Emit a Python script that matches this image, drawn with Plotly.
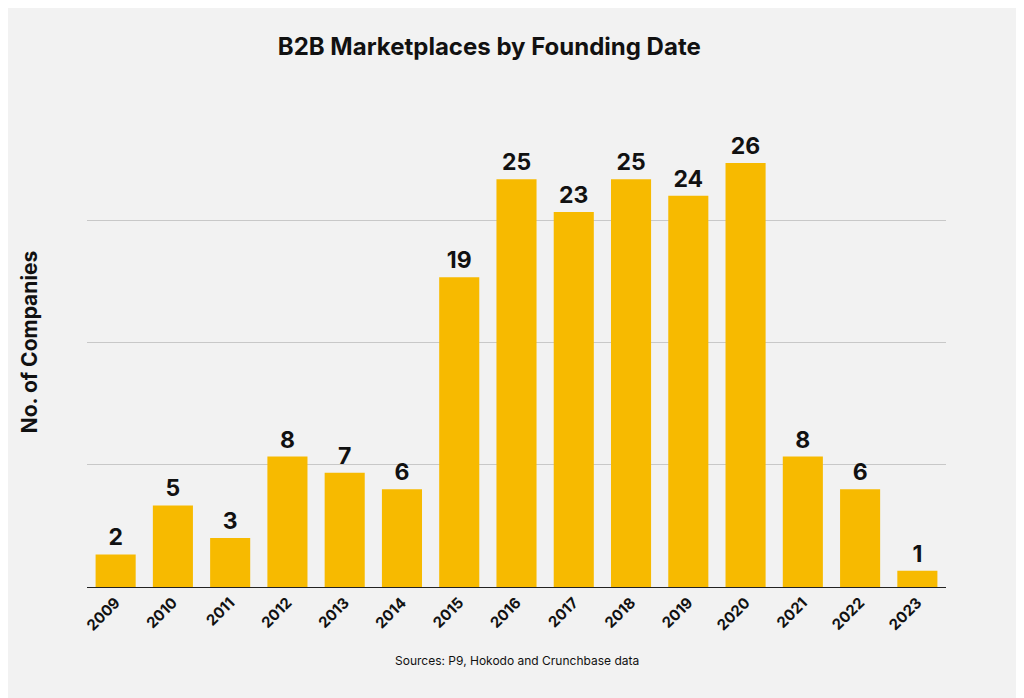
import plotly.graph_objects as go

years = ["2009", "2010", "2011", "2012", "2013", "2014", "2015", "2016",
         "2017", "2018", "2019", "2020", "2021", "2022", "2023"]
companies = [2, 5, 3, 8, 7, 6, 19, 25, 23, 25, 24, 26, 8, 6, 1]

fig = go.Figure(
    go.Bar(
        x=years,
        y=companies,
        marker=dict(color="#F7BA00", line=dict(width=0)),
        text=[f"<b>{v}</b>" for v in companies],
        textposition="outside",
        textfont=dict(family="Inter", size=23, color="#111"),
        cliponaxis=False,
    )
)

fig.update_layout(
    width=1024,
    height=698,
    paper_bgcolor="#F2F2F2",
    plot_bgcolor="#F2F2F2",
    margin=dict(l=79, r=86, t=89, b=119),
    bargap=0.3,
    showlegend=False,
    title=dict(
        text="<b>B2B Marketplaces by Founding Date</b>",
        x=0.47, xanchor="center", y=0.945, yanchor="middle",
        font=dict(family="Inter", size=24, color="#111"),
    ),
    font=dict(family="Inter"),
)

fig.update_xaxes(
    tickangle=-45,
    tickfont=dict(family="Inter", size=15, color="#111", weight="bold"),
    showline=True, linecolor="#222", linewidth=1,
    ticks="",
)
fig.update_yaxes(
    range=[0, 30.05],
    tickvals=[0, 7.5, 15, 22.5, 30],
    showticklabels=False,
    gridcolor="#C8C8C8",
    zeroline=False,
    title=dict(text="<b>No. of Companies</b>", font=dict(family="Inter", size=21, color="#111"), standoff=42),
)

fig.add_annotation(
    text="Sources: P9, Hokodo and Crunchbase data",
    xref="paper", yref="paper", x=0.5, y=-0.17,
    showarrow=False, xanchor="center",
    font=dict(family="Inter", size=12, color="#111"),
)

fig.write_html("out.html")
